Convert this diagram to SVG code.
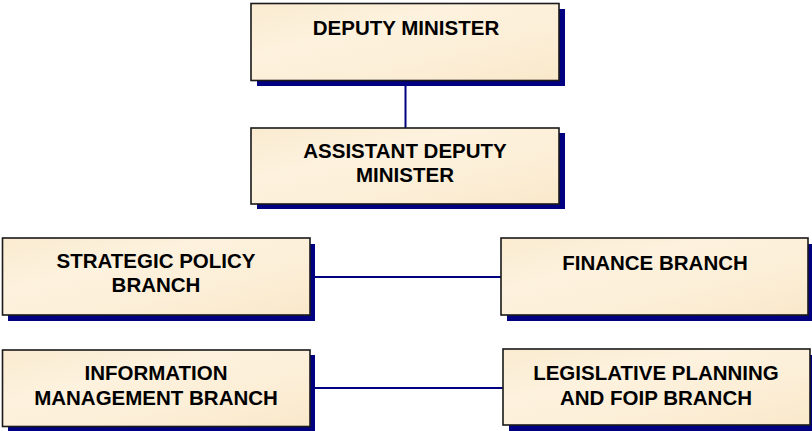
<svg xmlns="http://www.w3.org/2000/svg" width="812" height="431" viewBox="0 0 812 431">
<defs>
<linearGradient id="parch" x1="0" y1="0" x2="1" y2="1">
<stop offset="0" stop-color="#FAEBD0"/>
<stop offset="0.35" stop-color="#FDF2DE"/>
<stop offset="0.7" stop-color="#FCEED6"/>
<stop offset="1" stop-color="#F9E8CA"/>
</linearGradient>
<style>
.shadow{fill:#000080;}
.box{fill:url(#parch);stroke:#1A1A1A;stroke-width:1.6;}
.lbl{font-family:"Liberation Sans",Arial,sans-serif;font-weight:bold;font-size:20.5px;fill:#000;text-anchor:middle;}
.conn{stroke:#000080;stroke-width:2;fill:none;}
</style>
</defs>
<rect width="812" height="431" fill="#FFFFFF"/>
<g id="connectors">
<line class="conn" x1="405.5" y1="85" x2="405.5" y2="128"/>
<line class="conn" x1="315" y1="277" x2="501" y2="277"/>
<line class="conn" x1="315" y1="388" x2="503" y2="388"/>
</g>
<g id="deputy-minister">
<rect class="shadow" x="257" y="9" width="308" height="77"/>
<rect class="box" x="251" y="3.5" width="308" height="77"/>
<text class="lbl" x="406" y="35">DEPUTY MINISTER</text>
</g>
<g id="assistant-deputy-minister">
<rect class="shadow" x="257" y="133" width="308" height="76"/>
<rect class="box" x="251" y="128" width="308" height="76"/>
<text class="lbl" x="405" y="158">ASSISTANT DEPUTY</text>
<text class="lbl" x="405" y="182">MINISTER</text>
</g>
<g id="strategic-policy-branch">
<rect class="shadow" x="8" y="244" width="307" height="77"/>
<rect class="box" x="2.5" y="238" width="307.5" height="77"/>
<text class="lbl" x="156" y="268">STRATEGIC POLICY</text>
<text class="lbl" x="156" y="292">BRANCH</text>
</g>
<g id="finance-branch">
<rect class="shadow" x="507" y="244" width="307" height="77"/>
<rect class="box" x="501" y="238" width="307" height="77"/>
<text class="lbl" x="655" y="270">FINANCE BRANCH</text>
</g>
<g id="information-management-branch">
<rect class="shadow" x="8" y="355" width="307" height="77"/>
<rect class="box" x="2.5" y="350" width="307.5" height="76.5"/>
<text class="lbl" x="156" y="380">INFORMATION</text>
<text class="lbl" x="156" y="405">MANAGEMENT BRANCH</text>
</g>
<g id="legislative-planning-foip-branch">
<rect class="shadow" x="509" y="355" width="307" height="76"/>
<rect class="box" x="503" y="349" width="307" height="76"/>
<text class="lbl" x="656" y="380">LEGISLATIVE PLANNING</text>
<text class="lbl" x="656" y="405">AND FOIP BRANCH</text>
</g>
</svg>
